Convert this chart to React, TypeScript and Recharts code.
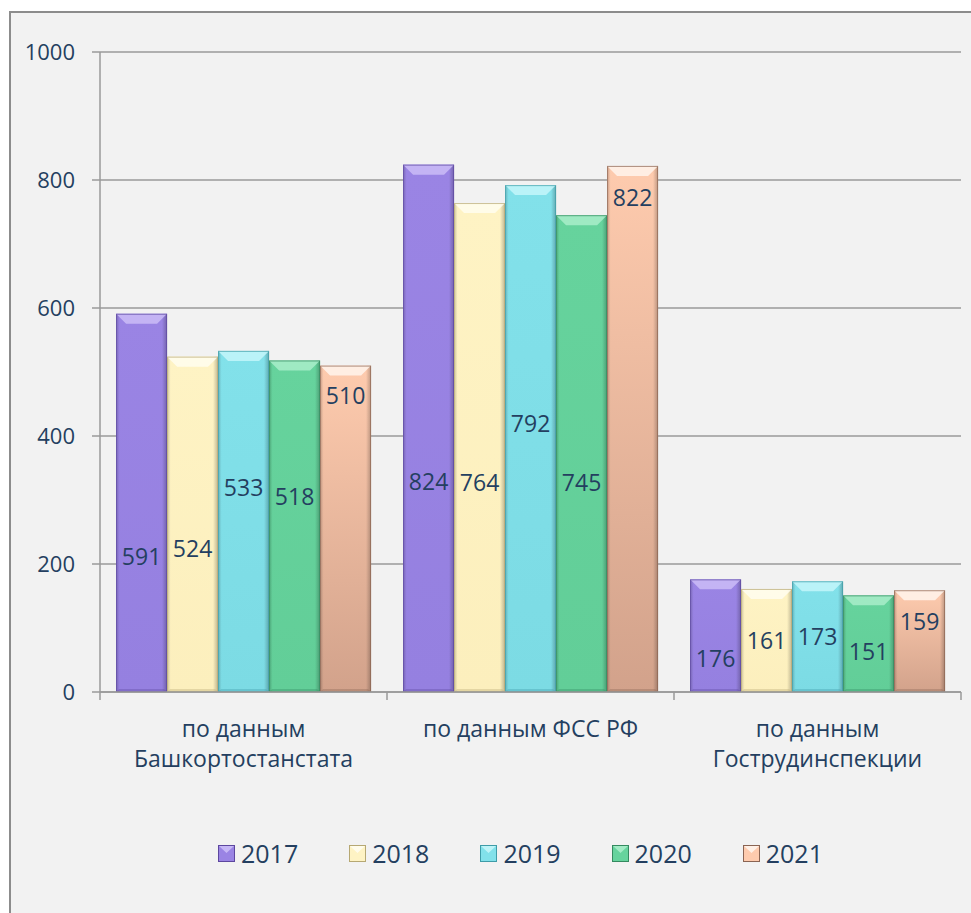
import { BarChart, Bar, XAxis, YAxis, CartesianGrid, Legend } from 'recharts'

// categories and yearly values
const categories = ['по данным\nБашкортостанстата', 'по данным ФСС РФ', 'по данным\nГострудинспекции']
const years = ['2017', '2018', '2019', '2020', '2021']
const v2017 = [591, 824, 176]
const v2018 = [524, 764, 161]
const v2019 = [533, 792, 173]
const v2020 = [518, 745, 151]
const v2021 = [510, 822, 159]
const yTicks = [0, 200, 400, 600, 800, 1000]

// where the data label sits inside each bar (share of bar height from its base)
const labelLift: number[][] = [
  [0.36, 0.40, 0.30],
  [0.43, 0.43, 0.50],
  [0.60, 0.53, 0.51],
  [0.59, 0.44, 0.42],
  [0.91, 0.94, 0.70],
]

const seriesValues = [v2017, v2018, v2019, v2020, v2021]

const data = categories.map((name, i) => {
  const row: Record<string, string | number> = { name }
  years.forEach((y, s) => { row[y] = seriesValues[s][i] })
  return row
})

const palette = [
  { top: '#9a84e4', bottom: '#9580e0', light: '#cbbcf7', dark: '#5d479f' },
  { top: '#fef3c4', bottom: '#fcefbd', light: '#fffdf0', dark: '#b6a873' },
  { top: '#82e1ea', bottom: '#7cdbe4', light: '#c4f6fa', dark: '#3f9ca8' },
  { top: '#66d39d', bottom: '#62ce98', light: '#a9edca', dark: '#358a60' },
  { top: '#fecbae', bottom: '#d2a28b', light: '#fff4ec', dark: '#8a6453' },
]

const W = 971
const H = 913
const PLOT_L = 100
const PLOT_R = 961
const PLOT_B = 692
const BAND = (PLOT_R - PLOT_L) / categories.length
const FONT = '"Open Sans", sans-serif'
const TEXT = '#243f60'
const GRID = '#9a9a9a'

const BevelBar = (props: any) => {
  const { x, y, width, height, s } = props
  if (!height || height <= 0) return null
  const c = palette[s]
  const b = Math.min(10, height / 3)
  return (
    <g>
      <rect x={x} y={y} width={width} height={height} fill={`url(#vg${s})`} />
      <rect x={x} y={y} width={width} height={height} fill="url(#side)" />
      <polygon
        points={`${x},${y} ${x + width},${y} ${x + width - b},${y + b} ${x + b},${y + b}`}
        fill={c.light}
        opacity={0.85}
      />
      <polygon
        points={`${x},${y + height} ${x + width},${y + height} ${x + width - 3},${y + height - 3} ${x + 3},${y + height - 3}`}
        fill={c.dark}
        opacity={0.35}
      />
      <rect x={x + 0.5} y={y + 0.5} width={width - 1} height={height - 1} fill="none" stroke={c.dark} strokeOpacity={0.7} />
    </g>
  )
}

const barLabel = (s: number) => (p: any) => {
  const vb = p.viewBox ?? p
  const x = vb.x ?? p.x
  const y = vb.y ?? p.y
  const w = vb.width ?? p.width
  const h = vb.height ?? p.height
  const lift = labelLift[s][p.index] ?? 0.5
  return (
    <text
      x={x + w / 2}
      y={y + h - lift * h}
      textAnchor="middle"
      dominantBaseline="central"
      fontFamily={FONT}
      fontSize={23}
      fill={TEXT}
    >
      {p.value}
    </text>
  )
}

const CatTick = (props: any) => {
  const { x, payload, index } = props
  const lines = String(payload.value).split('\n')
  const last = index === categories.length - 1
  return (
    <g>
      <line x1={x - BAND / 2} x2={x - BAND / 2} y1={PLOT_B} y2={PLOT_B + 8} stroke={GRID} strokeWidth={1.5} />
      {last && <line x1={x + BAND / 2} x2={x + BAND / 2} y1={PLOT_B} y2={PLOT_B + 8} stroke={GRID} strokeWidth={1.5} />}
      <text x={x} y={728} textAnchor="middle" fontFamily={FONT} fontSize={23} fill={TEXT}>
        {lines.map((l, i) => (
          <tspan key={i} x={x} y={728 + i * 30} dominantBaseline="central">{l}</tspan>
        ))}
      </text>
    </g>
  )
}

const LegendBox = () => (
  <div style={{ display: 'flex', justifyContent: 'flex-start', gap: 51, height: 30, alignItems: 'center', paddingLeft: 218 }}>
    {years.map((y, s) => (
      <div key={y} style={{ display: 'flex', alignItems: 'center' }}>
        <svg width={17} height={17} style={{ marginRight: 6 }}>
          <rect x={0.5} y={0.5} width={16} height={16} fill={palette[s].top} stroke={palette[s].dark} />
          <polygon points="1,1 16,1 8.5,8" fill={palette[s].light} opacity={0.9} />
        </svg>
        <span style={{ fontFamily: FONT, fontSize: 25, color: TEXT, lineHeight: '30px' }}>{y}</span>
      </div>
    ))}
  </div>
)

export default function App() {
  return (
    <div style={{ position: 'absolute', left: 0, top: 0, width: W, height: H, background: '#fff', overflow: 'hidden' }}>
      <div
        style={{
          position: 'absolute', left: 9, top: 11, width: 980, height: 930,
          border: '2px solid #8c8c8c', background: '#f2f2f2',
        }}
      />
      <div style={{ position: 'absolute', left: 0, top: 0 }}>
        <BarChart
          width={W}
          height={H}
          data={data}
          margin={{ top: 52, right: W - PLOT_R, left: 40, bottom: 91 }}
          barCategoryGap="5.6%"
          barGap={0}
        >
          <defs>
            {palette.map((c, s) => (
              <linearGradient key={s} id={`vg${s}`} x1="0" y1="0" x2="0" y2="1">
                <stop offset="0" stopColor={c.top} />
                <stop offset="1" stopColor={c.bottom} />
              </linearGradient>
            ))}
            <linearGradient id="side" x1="0" y1="0" x2="1" y2="0">
              <stop offset="0" stopColor="#000" stopOpacity={0.18} />
              <stop offset="0.07" stopColor="#000" stopOpacity={0} />
              <stop offset="0.9" stopColor="#000" stopOpacity={0} />
              <stop offset="1" stopColor="#000" stopOpacity={0.25} />
            </linearGradient>
          </defs>
          <CartesianGrid vertical={false} stroke={GRID} strokeWidth={1.5} />
          <XAxis
            dataKey="name"
            height={100}
            axisLine={{ stroke: GRID, strokeWidth: 1.5 }}
            tickLine={false}
            tick={<CatTick />}
            interval={0}
          />
          <YAxis
            width={60}
            domain={[0, 1000]}
            ticks={yTicks}
            axisLine={{ stroke: GRID, strokeWidth: 1.5 }}
            tickLine={{ stroke: GRID, strokeWidth: 1.5 }}
            tickSize={8}
            tickMargin={17}
            tick={{ fontFamily: FONT, fontSize: 22, fill: TEXT }}
          />
          <Legend
            verticalAlign="bottom"
            content={<LegendBox />}
            wrapperStyle={{ position: 'absolute', left: 0, top: 838, width: W, height: 30 }}
          />
          {years.map((y, s) => (
            <Bar
              key={y}
              dataKey={y}
              isAnimationActive={false}
              shape={(p: any) => <BevelBar {...p} s={s} />}
              label={barLabel(s)}
            />
          ))}
        </BarChart>
      </div>
    </div>
  )
}
